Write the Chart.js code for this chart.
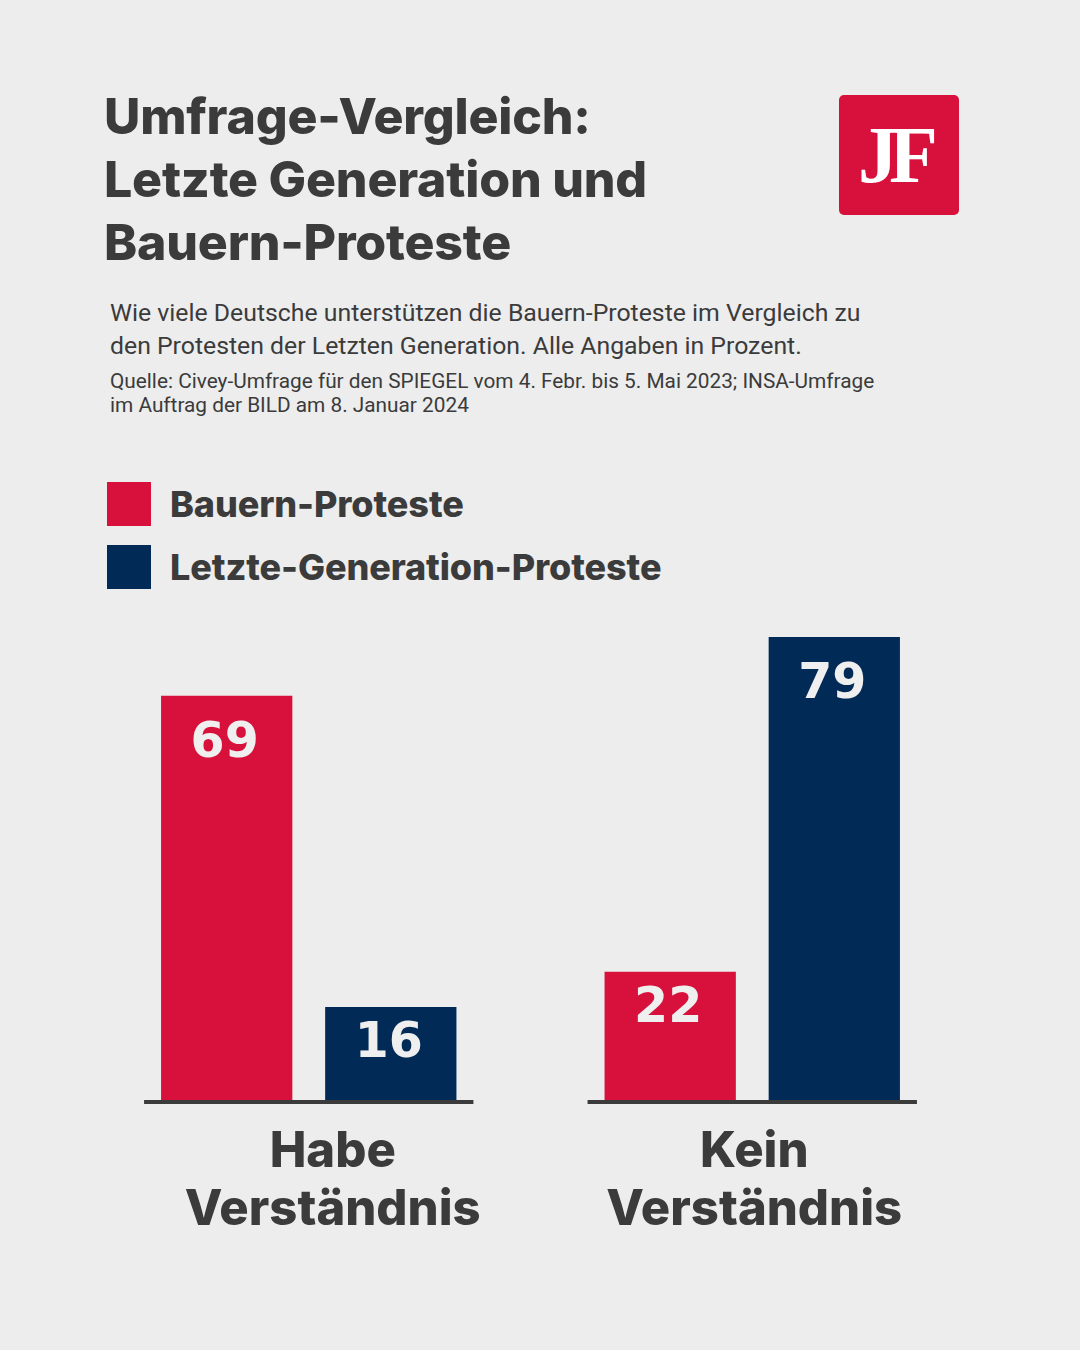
<!DOCTYPE html>
<html><head><meta charset="utf-8">
<script src="https://cdn.jsdelivr.net/npm/chart.js@4.4.1/dist/chart.umd.min.js"></script>
<style>
html,body{margin:0;padding:0;background:#ededed;}
body{width:1080px;height:1350px;position:relative;overflow:hidden;font-family:Inter, Roboto, sans-serif;color:#3b3b3b;}
.abs{position:absolute;white-space:nowrap;}
#title{left:104px;top:85px;font-weight:800;font-size:50px;line-height:63px;letter-spacing:-0.2px;}
#sub{left:110px;top:296px;font-family:Roboto, sans-serif;font-size:24.8px;line-height:33px;}
#src{left:110px;top:369px;font-family:Roboto, sans-serif;font-size:20.8px;line-height:24px;}
#logo{left:839px;top:95px;width:120px;height:120px;background:#d7103c;border-radius:5px;}
#logo span{position:absolute;left:19px;top:20px;font-family:"Liberation Serif",serif;font-weight:700;font-size:80px;line-height:80px;color:#fff;letter-spacing:-9px;}
#legend{left:107px;top:482px;}
.li{display:flex;align-items:center;height:44px;margin-bottom:19px;}
.sw{width:44px;height:44px;margin-right:19px;}
.lt{font-weight:800;font-size:36px;line-height:44px;letter-spacing:-0.1px;}
#wrap{left:0;top:600px;width:1080px;height:700px;}
</style></head>
<body>
<div id="title" class="abs">Umfrage-Vergleich:<br>Letzte Generation und<br>Bauern-Proteste</div>
<div id="sub" class="abs">Wie viele Deutsche unterstützen die Bauern-Proteste im Vergleich zu<br>den Protesten der Letzten Generation. Alle Angaben in Prozent.</div>
<div id="src" class="abs">Quelle: Civey-Umfrage für den SPIEGEL vom 4. Febr. bis 5. Mai 2023; INSA-Umfrage<br>im Auftrag der BILD am 8. Januar 2024</div>
<div id="logo" class="abs"><span>JF</span></div>
<div id="legend" class="abs"></div>
<div id="wrap" class="abs"><canvas id="c" width="1080" height="700"></canvas></div>
<script>
const categories = [['Habe','Verständnis'],['Kein','Verständnis']];
const seriesNames = ['Bauern-Proteste','Letzte-Generation-Proteste'];
const bauernValues = [69, 22];
const letzteValues = [16, 79];
const seriesColors = ['#d7103c', '#012a56'];

const legend = document.getElementById('legend');
seriesNames.forEach((n,i)=>{
  const d = document.createElement('div'); d.className='li';
  d.innerHTML = '<div class="sw" style="background:'+seriesColors[i]+'"></div><div class="lt">'+n+'</div>';
  legend.appendChild(d);
});

const groupDecor = {
  id:'groupDecor',
  afterDatasetsDraw(chart, args, opts){
    const ctx = chart.ctx, area = chart.chartArea;
    const metas = chart.data.datasets.map((d,i)=>chart.getDatasetMeta(i));
    ctx.save();
    ctx.textAlign='center'; ctx.textBaseline='alphabetic';
    metas.forEach((meta,di)=>{
      meta.data.forEach((bar,i)=>{
        const v = chart.data.datasets[di].data[i];
        const h = bar.base - bar.y;
        const off = h > 300 ? 61 : 50;
        ctx.font = 'bold 49px "DejaVu Sans"';
        ctx.fillStyle = '#efefef';
        ctx.fillText(String(v), bar.x - 2, bar.y + off);
      });
    });
    chart.data.labels.forEach((lab,i)=>{
      let l=Infinity, r=-Infinity;
      metas.forEach(m=>{const b=m.data[i]; l=Math.min(l,b.x-b.width/2); r=Math.max(r,b.x+b.width/2);});
      ctx.fillStyle='#3b3b3b';
      ctx.fillRect(l-17, area.bottom-1, r-l+34, 4);
      ctx.font='800 49px Inter';
      const cx = chart.scales.x.getPixelForValue(i) + opts.shift[i];
      lab.forEach((line,k)=> ctx.fillText(line, cx, area.bottom + 66 + k*58));
    });
    ctx.restore();
  }
};

new Chart(document.getElementById('c'), {
  type:'bar',
  data:{
    labels: categories,
    datasets:[
      {label:seriesNames[0], data:bauernValues, backgroundColor:seriesColors[0], borderWidth:0},
      {label:seriesNames[1], data:letzteValues, backgroundColor:seriesColors[1], borderWidth:0}
    ]
  },
  options:{
    responsive:false, animation:false, devicePixelRatio:1,
    layout:{padding:{left:87, right:106, top:31, bottom:199}},
    datasets:{bar:{categoryPercentage:0.74, barPercentage:0.8}},
    scales:{
      x:{display:false},
      y:{display:false, min:0, max:80}
    },
    plugins:{legend:{display:false}, tooltip:{enabled:false}, groupDecor:{shift:[24,2]}}
  },
  plugins:[groupDecor]
});
</script>
</body></html>
